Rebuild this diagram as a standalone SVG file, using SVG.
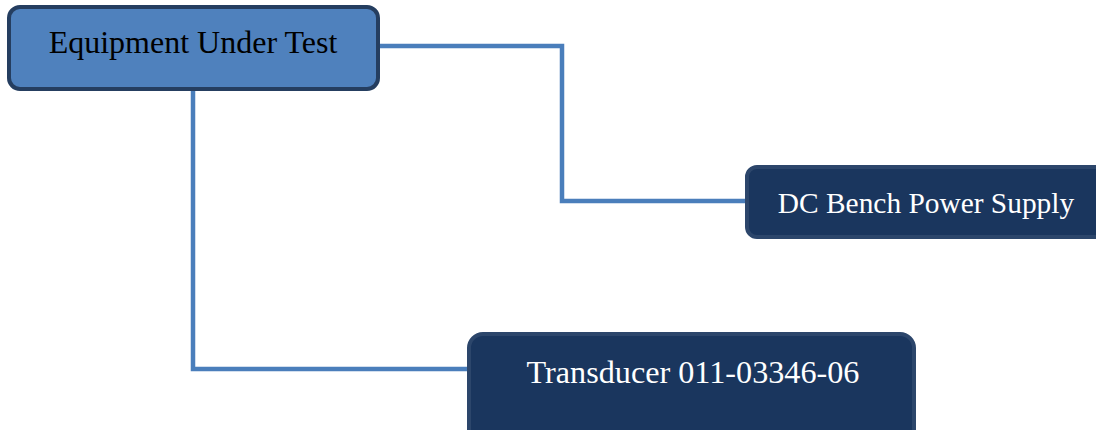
<svg xmlns="http://www.w3.org/2000/svg" width="1096" height="430" viewBox="0 0 1096 430">
<style>
.conn{fill:none;stroke:#4a7ebb;stroke-width:4.5}
.dark{fill:#1a365e;stroke:#2c466b;stroke-width:4}
.t{font-family:"Liberation Serif","Times New Roman",serif;text-anchor:middle}
</style>
<rect width="1096" height="430" fill="#ffffff"/>
<g id="connectors">
<polyline class="conn" points="378,46 562,46 562,201 747,201"/>
<polyline class="conn" points="193,89 193,369 470,369"/>
</g>
<g id="eut">
<rect x="9" y="7" width="369" height="82" rx="11" fill="#4f81bd" stroke="#253e60" stroke-width="4"/>
<text class="t" x="193" y="53" font-size="32" fill="#000000">Equipment Under Test</text>
</g>
<g id="dc">
<rect class="dark" x="747" y="167" width="365" height="70" rx="10"/>
<text class="t" x="926" y="213" font-size="29.4" fill="#ffffff">DC Bench Power Supply</text>
</g>
<g id="transducer">
<rect class="dark" x="469" y="334" width="445" height="110" rx="14"/>
<text class="t" x="693" y="383" font-size="32.2" fill="#ffffff">Transducer 011-03346-06</text>
</g>
</svg>
